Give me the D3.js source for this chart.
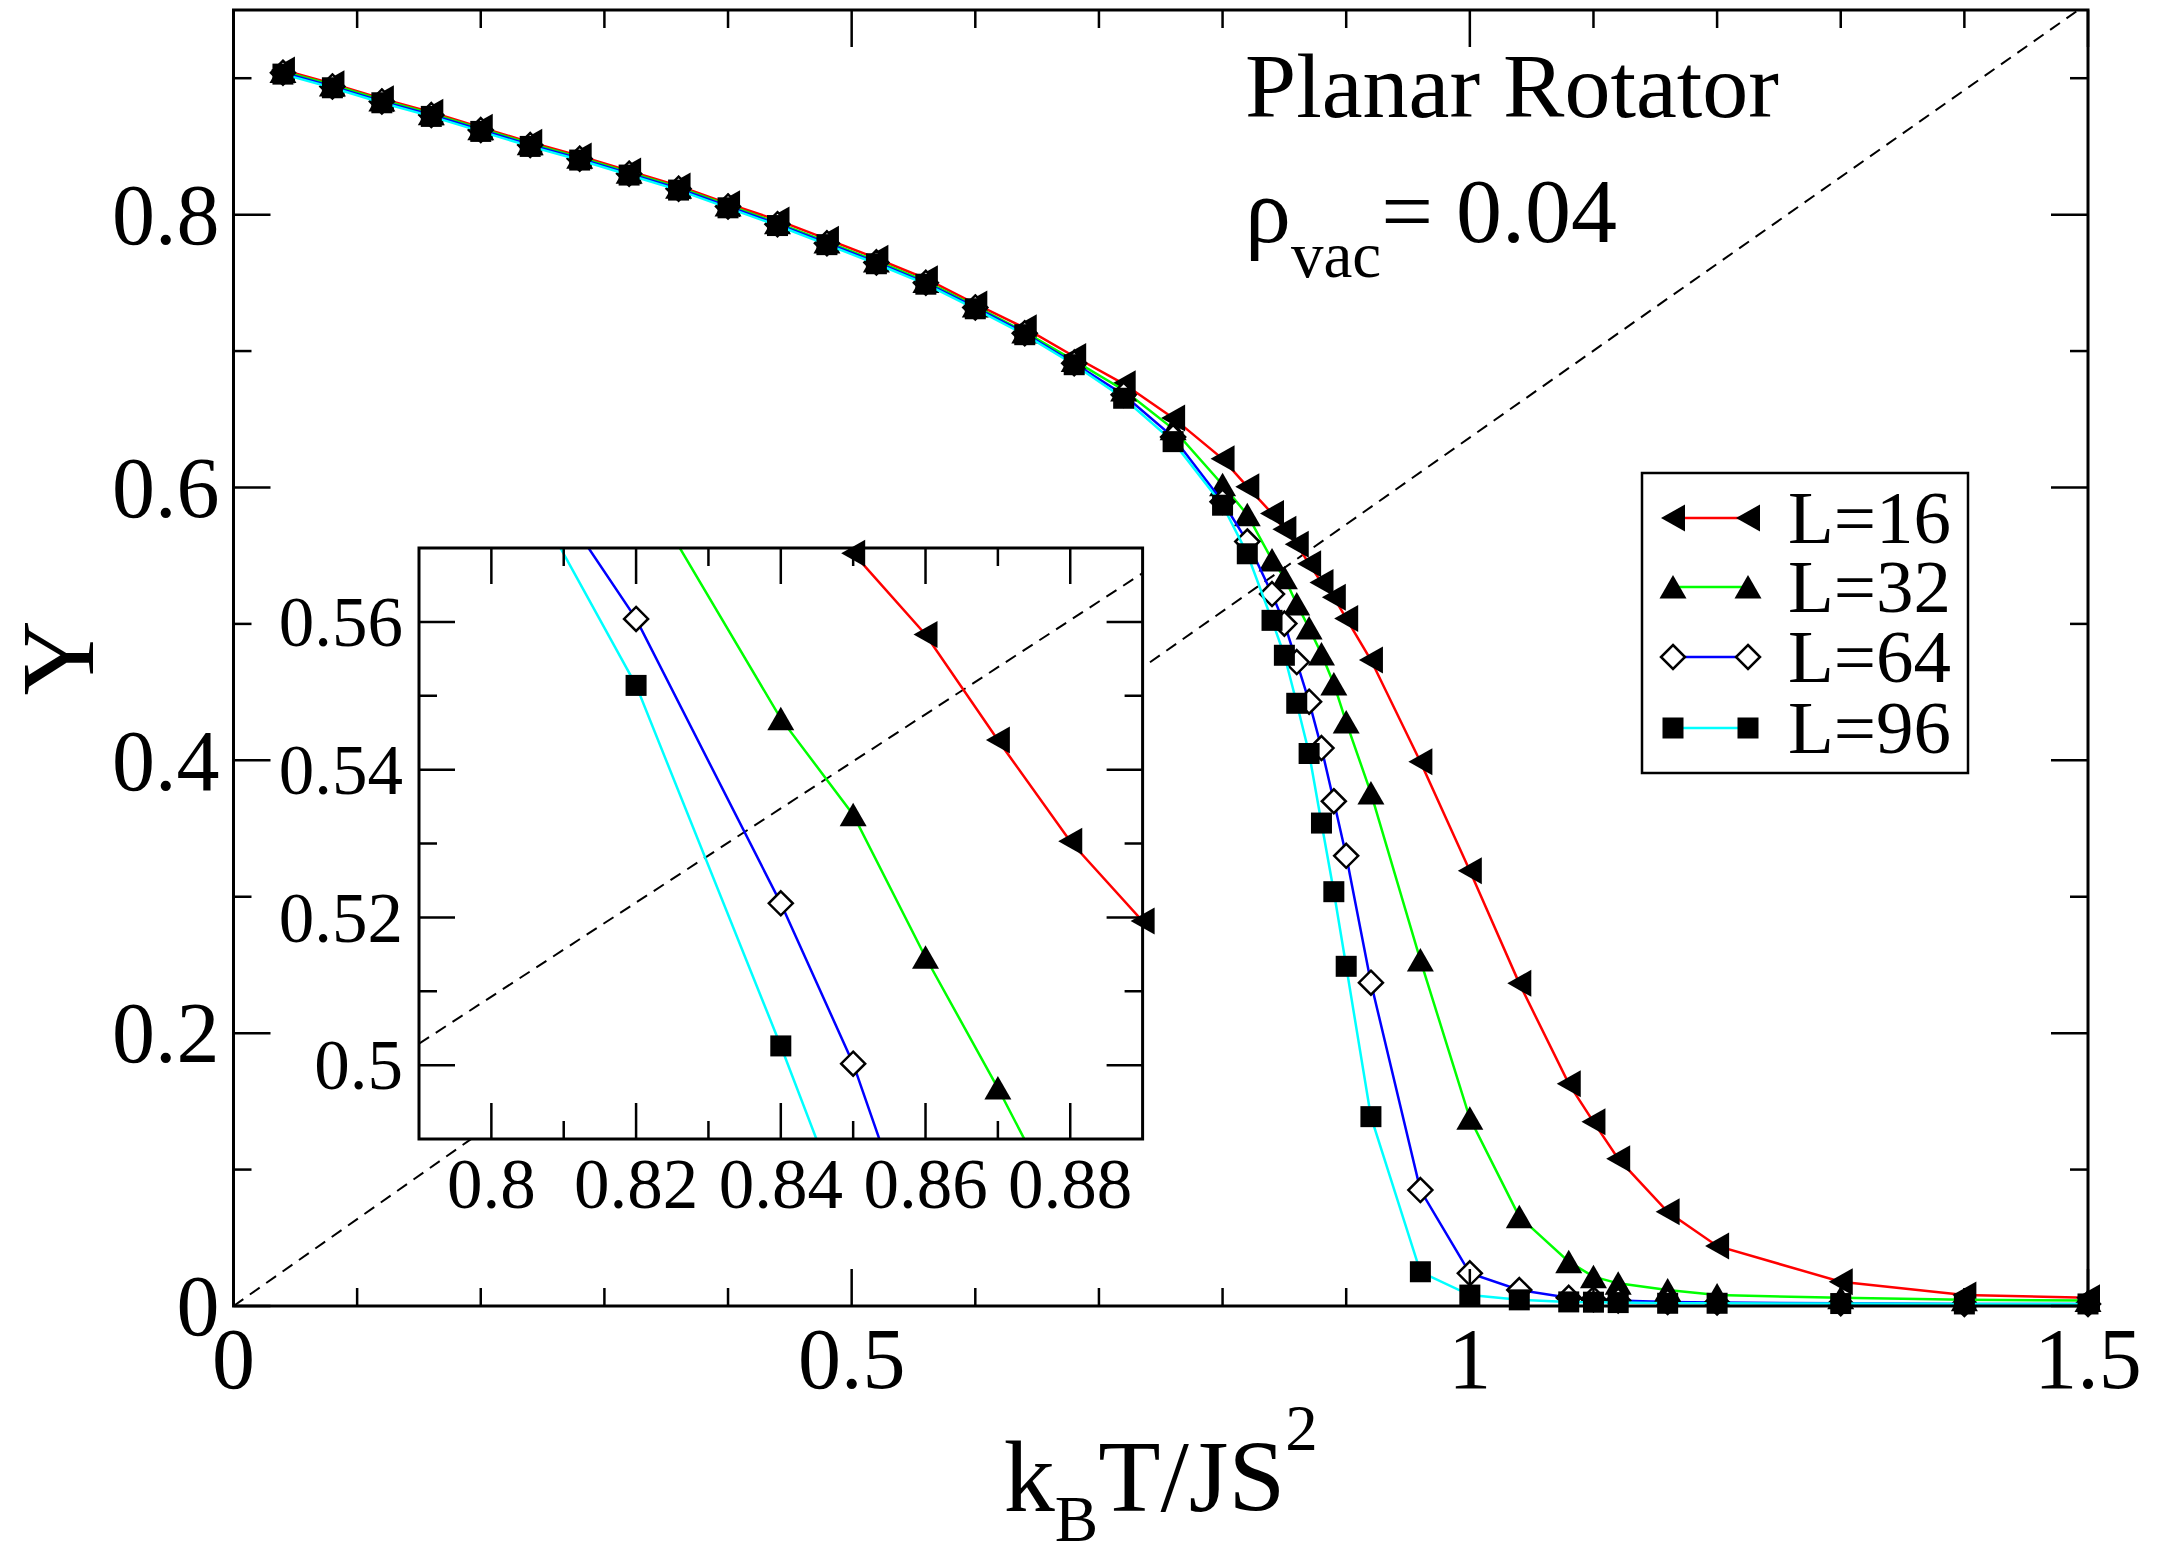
<!DOCTYPE html>
<html>
<head>
<meta charset="utf-8">
<script src="https://cdn.jsdelivr.net/npm/d3@7"></script>
<style>
  html, body { margin: 0; padding: 0; background: #fff; }
  svg { display: block; }
  text { font-family: "Liberation Serif", "Times New Roman", serif; fill: #000; }
</style>
</head>
<body>
<script>
// ---------------- DATA ----------------
const xValues = [0.04, 0.08, 0.12, 0.16, 0.20, 0.24, 0.28, 0.32, 0.36, 0.40, 0.44, 0.48, 0.52, 0.56, 0.60, 0.64, 0.68, 0.72, 0.76, 0.80,
  0.82, 0.84, 0.85, 0.86, 0.87, 0.88, 0.89, 0.90, 0.92, 0.96, 1.00, 1.04, 1.08, 1.10, 1.12, 1.16, 1.20, 1.30, 1.40, 1.50];

const yL16 = [0.906, 0.896, 0.885, 0.875, 0.864, 0.853, 0.843, 0.832, 0.821, 0.808, 0.796, 0.782, 0.768, 0.753, 0.7345, 0.717, 0.696, 0.676, 0.651, 0.621,
  0.6006, 0.581, 0.5693, 0.5583, 0.544, 0.5303, 0.5195, 0.504, 0.4735, 0.399, 0.319, 0.2365, 0.163, 0.135, 0.108, 0.069, 0.044, 0.0178, 0.008, 0.006];

const yL32 = [0.905, 0.895, 0.884, 0.874, 0.863, 0.852, 0.842, 0.831, 0.820, 0.807, 0.794, 0.780, 0.766, 0.751, 0.733, 0.714, 0.693, 0.6715, 0.643, 0.602,
  0.580, 0.5469, 0.5339, 0.5146, 0.4969, 0.478, 0.456, 0.428, 0.376, 0.2536, 0.1376, 0.0655, 0.0325, 0.0215, 0.0166, 0.0117, 0.008, 0.006, 0.0045, 0.004];

const yL64 = [0.904, 0.894, 0.883, 0.873, 0.862, 0.851, 0.841, 0.830, 0.819, 0.806, 0.793, 0.779, 0.765, 0.750, 0.732, 0.713, 0.691, 0.668, 0.637, 0.5896,
  0.5604, 0.5219, 0.5002, 0.472, 0.443, 0.409, 0.370, 0.330, 0.237, 0.085, 0.024, 0.0117, 0.006, 0.005, 0.004, 0.003, 0.0025, 0.002, 0.0015, 0.0015];

const yL96 = [0.903, 0.893, 0.882, 0.872, 0.861, 0.850, 0.840, 0.829, 0.818, 0.805, 0.792, 0.778, 0.764, 0.749, 0.731, 0.712, 0.690, 0.6654, 0.6336, 0.587,
  0.5514, 0.5026, 0.477, 0.4418, 0.405, 0.354, 0.3037, 0.249, 0.1388, 0.0251, 0.008, 0.0045, 0.003, 0.0028, 0.0025, 0.002, 0.002, 0.0018, 0.0015, 0.0015];

const seriesNames = ["L=16", "L=32", "L=64", "L=96"];
const seriesColors = ["#ff0000", "#00ff00", "#0000ff", "#00ffff"];
const seriesSymbols = ["triLeft", "triUp", "diamond", "square"];

// reference line Y = 2T/pi (endpoints)
const dashMainX = [0, 1.5], dashMainY = [0, 0.9549];
const dashInsetX = [0.79, 0.89], dashInsetY = [0.5029, 0.5666];

// ticks
const mainXMajor = [0, 0.5, 1, 1.5];
const mainXMajorLabels = ["0", "0.5", "1", "1.5"];
const mainXMinor = [0.1, 0.2, 0.3, 0.4, 0.6, 0.7, 0.8, 0.9, 1.1, 1.2, 1.3, 1.4];
const mainYMajor = [0, 0.2, 0.4, 0.6, 0.8];
const mainYMajorLabels = ["0", "0.2", "0.4", "0.6", "0.8"];
const mainYMinor = [0.1, 0.3, 0.5, 0.7, 0.9];
const insetXMajor = [0.80, 0.82, 0.84, 0.86, 0.88];
const insetXMajorLabels = ["0.8", "0.82", "0.84", "0.86", "0.88"];
const insetXMinor = [0.81, 0.83, 0.85, 0.87];
const insetYMajor = [0.50, 0.52, 0.54, 0.56];
const insetYMajorLabels = ["0.5", "0.52", "0.54", "0.56"];
const insetYMinor = [0.51, 0.53, 0.55];

// ---------------- LAYOUT ----------------
const W = 2157, H = 1553;
const svg = d3.select("body").append("svg").attr("width", W).attr("height", H);
svg.append("rect").attr("width", W).attr("height", H).attr("fill", "#fff");

const main = { x0: 233.5, x1: 2088, y0: 1306, y1: 10 };
const inset = { x0: 419, x1: 1142.6, y0: 1139, y1: 548 };

const x = d3.scaleLinear().domain([0, 1.5]).range([main.x0, main.x1]);
const y = d3.scaleLinear().domain([0, 0.95]).range([main.y0, main.y1]);
const xi = d3.scaleLinear().domain([0.79, 0.89]).range([inset.x0, inset.x1]);
const yi = d3.scaleLinear().domain([0.49, 0.57]).range([inset.y0, inset.y1]);

const series = [yL16, yL32, yL64, yL96].map((ys, k) => ({
  name: seriesNames[k], color: seriesColors[k], symbol: seriesSymbols[k],
  pts: xValues.map((xv, i) => ({ x: xv, y: ys[i] }))
}));

const defs = svg.append("defs");
defs.append("clipPath").attr("id", "clipMain").append("rect")
  .attr("x", main.x0).attr("y", main.y1).attr("width", main.x1 - main.x0).attr("height", main.y0 - main.y1);
defs.append("clipPath").attr("id", "clipInset").append("rect")
  .attr("x", inset.x0).attr("y", inset.y1).attr("width", inset.x1 - inset.x0).attr("height", inset.y0 - inset.y1);

function drawSymbol(g, type, cx, cy) {
  if (type === "triLeft") {
    g.append("path").attr("d", `M${cx - 12},${cy} L${cx + 12},${cy - 13.5} L${cx + 12},${cy + 13.5} Z`).attr("fill", "#000");
  } else if (type === "triUp") {
    g.append("path").attr("d", `M${cx},${cy - 12} L${cx + 13.5},${cy + 11.5} L${cx - 13.5},${cy + 11.5} Z`).attr("fill", "#000");
  } else if (type === "diamond") {
    g.append("path").attr("d", `M${cx},${cy - 12} L${cx + 12},${cy} L${cx},${cy + 12} L${cx - 12},${cy} Z`)
      .attr("fill", "#fff").attr("stroke", "#000").attr("stroke-width", 2.5);
  } else {
    g.append("rect").attr("x", cx - 10.5).attr("y", cy - 10.5).attr("width", 21).attr("height", 21).attr("fill", "#000");
  }
}

function drawTicks(g, xs, ys, xMaj, xMin, yMaj, yMin, area, majLen, minLen) {
  const tg = g.append("g").attr("stroke", "#000").attr("stroke-width", 2.5);
  const addX = (vals, len) => vals.forEach(v => {
    const px = xs(v);
    tg.append("line").attr("x1", px).attr("x2", px).attr("y1", area.y0).attr("y2", area.y0 - len);
    tg.append("line").attr("x1", px).attr("x2", px).attr("y1", area.y1).attr("y2", area.y1 + len);
  });
  const addY = (vals, len) => vals.forEach(v => {
    const py = ys(v);
    tg.append("line").attr("y1", py).attr("y2", py).attr("x1", area.x0).attr("x2", area.x0 + len);
    tg.append("line").attr("y1", py).attr("y2", py).attr("x1", area.x1).attr("x2", area.x1 - len);
  });
  addX(xMaj, majLen); addX(xMin, minLen); addY(yMaj, majLen); addY(yMin, minLen);
}

// ---------------- MAIN PLOT ----------------
const gMain = svg.append("g");

gMain.append("line").attr("clip-path", "url(#clipMain)")
  .attr("x1", x(dashMainX[0])).attr("y1", y(dashMainY[0]))
  .attr("x2", x(dashMainX[1])).attr("y2", y(dashMainY[1]))
  .attr("stroke", "#000").attr("stroke-width", 2).attr("stroke-dasharray", "12,8");

const line = d3.line().x(d => x(d.x)).y(d => y(d.y));
series.forEach(s => {
  gMain.append("path").datum(s.pts).attr("d", line).attr("fill", "none")
    .attr("stroke", s.color).attr("stroke-width", 2.5).attr("clip-path", "url(#clipMain)");
  const gs = gMain.append("g");
  s.pts.forEach(p => drawSymbol(gs, s.symbol, x(p.x), y(p.y)));
});

drawTicks(gMain, x, y, mainXMajor, mainXMinor, mainYMajor, mainYMinor, main, 37, 18);
gMain.append("rect").attr("x", main.x0).attr("y", main.y1)
  .attr("width", main.x1 - main.x0).attr("height", main.y0 - main.y1)
  .attr("fill", "none").attr("stroke", "#000").attr("stroke-width", 3);

mainXMajor.forEach((v, i) => {
  svg.append("text").attr("x", x(v)).attr("y", main.y0 + 82).attr("text-anchor", "middle")
    .attr("font-size", 86).text(mainXMajorLabels[i]);
});
mainYMajor.forEach((v, i) => {
  svg.append("text").attr("x", main.x0 - 14).attr("y", y(v)).attr("dy", "0.34em").attr("text-anchor", "end")
    .attr("font-size", 86).text(mainYMajorLabels[i]);
});

// axis titles
const xl = svg.append("text").attr("x", (main.x0 + main.x1) / 2).attr("y", 1511)
  .attr("text-anchor", "middle").attr("font-size", 102);
xl.append("tspan").text("k");
xl.append("tspan").attr("font-size", 65).attr("dy", 30).text("B");
xl.append("tspan").attr("dy", -30).text("T/JS");
xl.append("tspan").attr("font-size", 65).attr("dy", -61).text("2");

svg.append("text").attr("transform", `translate(93,${(main.y0 + main.y1) / 2}) rotate(-90)`)
  .attr("text-anchor", "middle").attr("font-size", 104).text("Y");

// annotations
svg.append("text").attr("x", 1245).attr("y", 117).attr("font-size", 92).text("Planar Rotator");
const rho = svg.append("text").attr("x", 1245).attr("y", 242).attr("font-size", 92);
rho.append("tspan").text("ρ");
rho.append("tspan").attr("font-size", 65).attr("dy", 35).text("vac");
rho.append("tspan").attr("dy", -35).text("= 0.04");

// ---------------- LEGEND ----------------
const lg = svg.append("g");
lg.append("rect").attr("x", 1642).attr("y", 473).attr("width", 326).attr("height", 300)
  .attr("fill", "#fff").attr("stroke", "#000").attr("stroke-width", 2.5);
const legendRows = [518, 587, 657, 728];
series.forEach((s, k) => {
  const cy = legendRows[k];
  lg.append("line").attr("x1", 1673).attr("x2", 1748).attr("y1", cy).attr("y2", cy)
    .attr("stroke", s.color).attr("stroke-width", 2.5);
  drawSymbol(lg, s.symbol, 1673, cy);
  drawSymbol(lg, s.symbol, 1748, cy);
  lg.append("text").attr("x", 1788).attr("y", cy + 25).attr("font-size", 75).text(s.name);
});

// ---------------- INSET ----------------
const gIn = svg.append("g");
gIn.append("rect").attr("x", inset.x0).attr("y", inset.y1)
  .attr("width", inset.x1 - inset.x0).attr("height", inset.y0 - inset.y1).attr("fill", "#fff");

gIn.append("line").attr("clip-path", "url(#clipInset)")
  .attr("x1", xi(dashInsetX[0])).attr("y1", yi(dashInsetY[0]))
  .attr("x2", xi(dashInsetX[1])).attr("y2", yi(dashInsetY[1]))
  .attr("stroke", "#000").attr("stroke-width", 2).attr("stroke-dasharray", "12,8");

const lineI = d3.line().x(d => xi(d.x)).y(d => yi(d.y));
const eps = 1e-6;
series.forEach(s => {
  gIn.append("path").datum(s.pts).attr("d", lineI).attr("fill", "none")
    .attr("stroke", s.color).attr("stroke-width", 2.5).attr("clip-path", "url(#clipInset)");
  const gs = gIn.append("g");
  s.pts.filter(p => p.x >= 0.79 - eps && p.x <= 0.89 + eps && p.y >= 0.49 - eps && p.y <= 0.57 + eps)
    .forEach(p => drawSymbol(gs, s.symbol, xi(p.x), yi(p.y)));
});

drawTicks(gIn, xi, yi, insetXMajor, insetXMinor, insetYMajor, insetYMinor, inset, 36, 18);
gIn.append("rect").attr("x", inset.x0).attr("y", inset.y1)
  .attr("width", inset.x1 - inset.x0).attr("height", inset.y0 - inset.y1)
  .attr("fill", "none").attr("stroke", "#000").attr("stroke-width", 3);

insetXMajor.forEach((v, i) => {
  svg.append("text").attr("x", xi(v)).attr("y", inset.y0 + 69).attr("text-anchor", "middle")
    .attr("font-size", 71).text(insetXMajorLabels[i]);
});
insetYMajor.forEach((v, i) => {
  svg.append("text").attr("x", inset.x0 - 16).attr("y", yi(v)).attr("dy", "0.34em").attr("text-anchor", "end")
    .attr("font-size", 71).text(insetYMajorLabels[i]);
});
</script>
</body>
</html>
